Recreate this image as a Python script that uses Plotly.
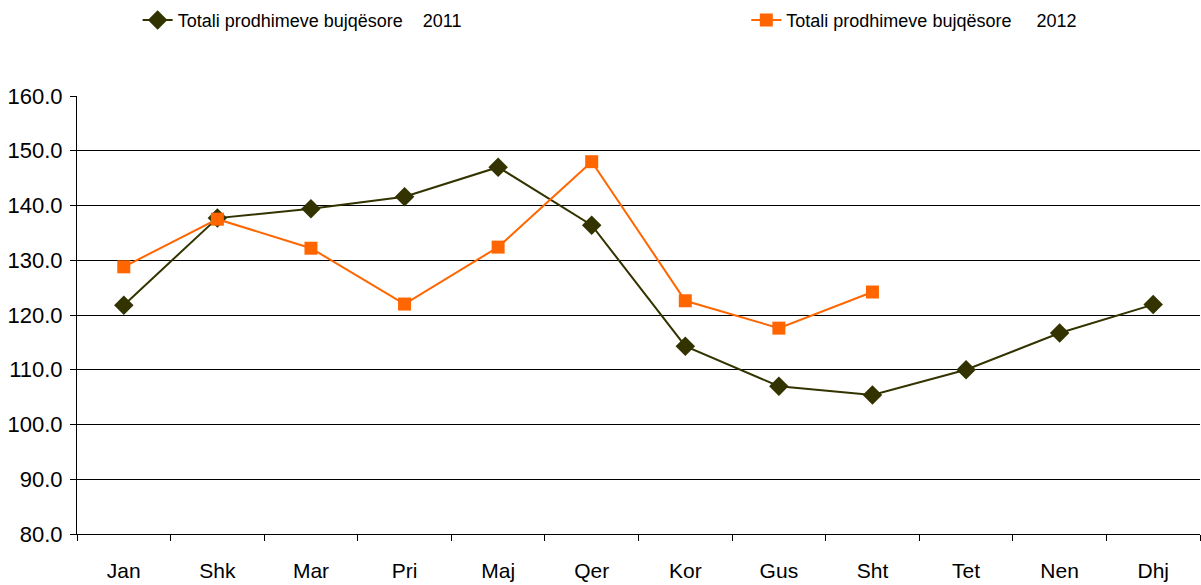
import plotly.graph_objects as go

months = ["Jan", "Shk", "Mar", "Pri", "Maj", "Qer", "Kor", "Gus", "Sht", "Tet", "Nen", "Dhj"]
values_2011 = [121.8, 137.7, 139.4, 141.6, 147.0, 136.4, 114.3, 107.0, 105.4, 110.0, 116.7, 121.9]
values_2012 = [128.8, 137.5, 132.2, 122.0, 132.4, 148.0, 122.6, 117.6, 124.2]
name_2011 = "Totali prodhimeve bujqësore\u00a0\u00a0\u00a0\u00a02011"
name_2012 = "Totali prodhimeve bujqësore\u00a0\u00a0\u00a0\u00a0\u00a02012"

fig = go.Figure()
fig.add_trace(go.Scatter(
    x=months, y=values_2011, name=name_2011, mode="lines+markers",
    line=dict(color="#333300", width=2),
    marker=dict(symbol="diamond", size=15, color="#333300"),
    legend="legend",
))
fig.add_trace(go.Scatter(
    x=months[:len(values_2012)], y=values_2012, name=name_2012, mode="lines+markers",
    line=dict(color="#FF6600", width=2),
    marker=dict(symbol="square", size=13, color="#FF6600"),
    legend="legend2",
))

legend_common = dict(orientation="h", yanchor="top", y=1.215, xanchor="left",
                     font=dict(size=18), bgcolor="rgba(0,0,0,0)")
fig.update_layout(
    width=1201, height=585,
    margin=dict(l=77, r=1, t=96, b=51),
    paper_bgcolor="white", plot_bgcolor="white",
    font=dict(family="Liberation Sans, Arial, sans-serif", color="black", size=22),
    legend=dict(x=0.054, **legend_common),
    legend2=dict(x=0.596, **legend_common),
    showlegend=True,
)
fig.update_xaxes(
    type="category", categoryorder="array", categoryarray=months,
    range=[-0.5, 11.5],
    showline=True, linecolor="black", linewidth=1,
    ticks="outside", tickson="boundaries", ticklen=6, tickcolor="black",
    showgrid=False, tickfont=dict(size=21), ticklabelstandoff=18,
    automargin=False,
)
fig.update_yaxes(
    range=[80, 160], dtick=10, tickformat=".1f",
    showline=True, linecolor="black", linewidth=1,
    ticks="outside", ticklen=6, tickcolor="black",
    showgrid=True, gridcolor="black", gridwidth=1,
    zeroline=False, tickfont=dict(size=22), ticklabelstandoff=3,
    automargin=False,
)

fig.write_html(
    "out.html",
    config={"displayModeBar": False},
    post_script="document.body.style.margin='0';document.body.style.overflow='hidden';",
)
